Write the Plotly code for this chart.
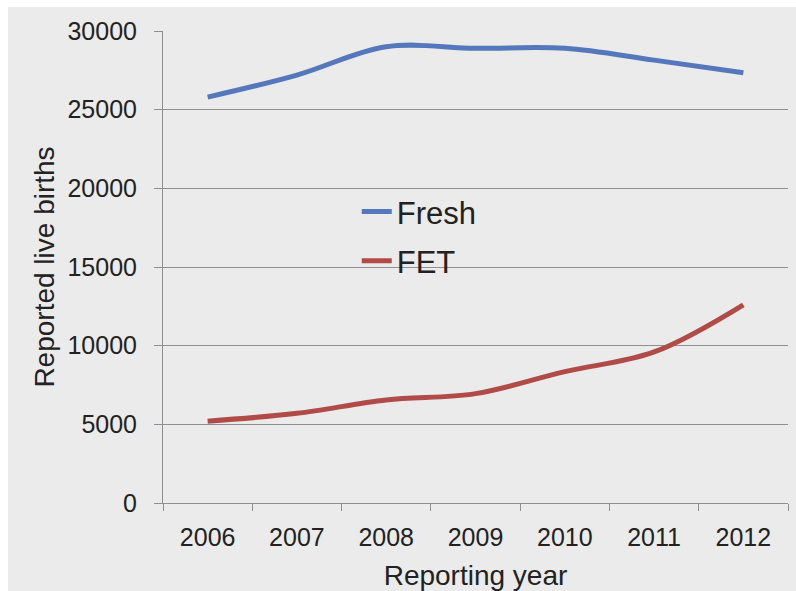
import plotly.graph_objects as go

years = ["2006", "2007", "2008", "2009", "2010", "2011", "2012"]
fresh = [25800, 27200, 29000, 28900, 28900, 28150, 27350]
fet = [5200, 5700, 6550, 6950, 8350, 9600, 12600]

FONT = "Liberation Sans, Arial, sans-serif"
TXT = "#222222"
GRID = "#8f8f8f"

fig = go.Figure()
fig.add_trace(go.Scatter(x=years, y=fresh, name="Fresh", mode="lines",
                         line=dict(color="#5577bb", width=5, shape="spline", smoothing=1),
                         legendgroup="a"))
fig.add_trace(go.Scatter(x=years, y=fet, name="FET", mode="lines",
                         line=dict(color="#b04b48", width=5, shape="spline", smoothing=1),
                         legendgroup="b"))

W, H = 796, 591
L, R, T, B = 163, 8, 31, 88
pw, ph = W - L - R, H - T - B

fig.update_layout(
    width=W, height=H,
    margin=dict(l=L, r=R, t=T, b=B),
    paper_bgcolor="#ebebeb",
    plot_bgcolor="rgba(0,0,0,0)",
    font=dict(family=FONT, color=TXT, size=25),
    showlegend=True,
    legend=dict(x=0.31, y=0.565, xanchor="left", yanchor="middle",
                bgcolor="rgba(0,0,0,0)", font=dict(size=31, color=TXT),
                traceorder="grouped", tracegroupgap=6, itemwidth=30),
    xaxis=dict(type="category", range=[-0.5, 6.5], showgrid=False, automargin=False,
               showline=True, linecolor=GRID, linewidth=1,
               ticks="outside", tickson="boundaries", ticklen=7, tickcolor=GRID,
               tickfont=dict(size=25, color=TXT), ticklabelstandoff=12,
               title=dict(text="Reporting year", font=dict(size=28, color=TXT), standoff=19)),
    yaxis=dict(range=[0, 30000], dtick=5000, tickformat="d", automargin=False,
               showgrid=True, gridcolor=GRID, gridwidth=1,
               showline=True, linecolor=GRID, linewidth=1, zeroline=False,
               ticks="outside", ticklen=8, tickcolor=GRID,
               tickfont=dict(size=25, color=TXT), ticklabelstandoff=12,
               title=dict(text="Reported live births", font=dict(size=28, color=TXT), standoff=4)),
    shapes=[
        dict(type="rect", xref="paper", yref="paper", layer="below",
             x0=-L / pw, x1=1 + R / pw, y0=1 + (T - 7) / ph, y1=1 + T / ph,
             fillcolor="white", line=dict(width=0)),
        dict(type="rect", xref="paper", yref="paper", layer="below",
             x0=-L / pw, x1=-(L - 8) / pw, y0=-B / ph, y1=1 + T / ph,
             fillcolor="white", line=dict(width=0)),
    ],
)

fig.write_html("out.html")
